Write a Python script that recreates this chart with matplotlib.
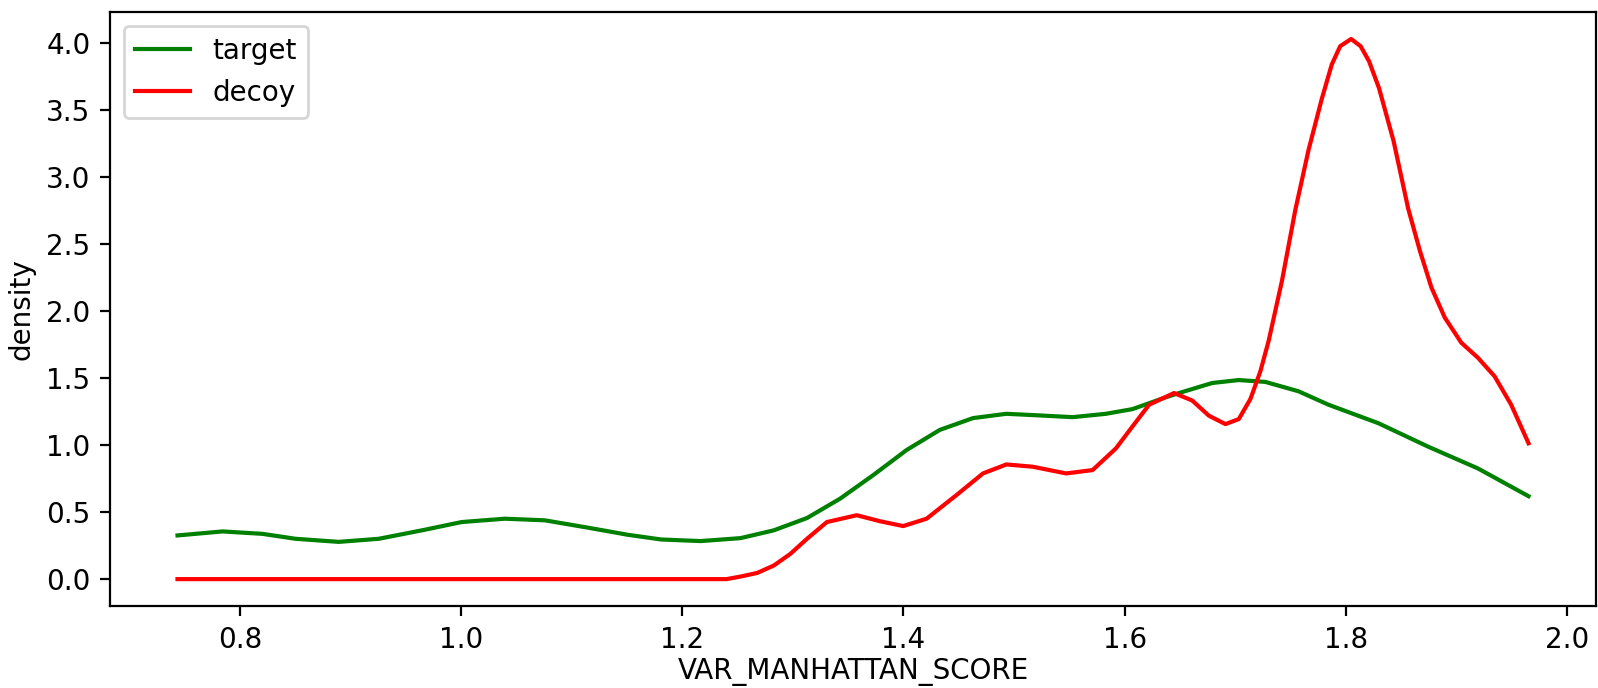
import matplotlib
matplotlib.use("Agg")
import matplotlib.pyplot as plt

# values
target_x = [0.7437, 0.7844, 0.8204, 0.8505, 0.8895, 0.9256, 0.9646, 1.0006, 1.0396, 1.0757,
            1.1148, 1.1508, 1.1808, 1.2167, 1.2527, 1.2827, 1.3128, 1.3428, 1.3728, 1.4029,
            1.4329, 1.4629, 1.4930, 1.5230, 1.5530, 1.5830, 1.6070, 1.6371, 1.6491, 1.6791,
            1.7032, 1.7272, 1.7572, 1.7842, 1.8293, 1.8743, 1.9194, 1.9651]
target_y = [0.326, 0.356, 0.338, 0.301, 0.278, 0.301, 0.364, 0.426, 0.451, 0.439,
            0.384, 0.331, 0.296, 0.284, 0.306, 0.364, 0.456, 0.601, 0.777, 0.964,
            1.114, 1.202, 1.234, 1.222, 1.209, 1.234, 1.269, 1.357, 1.389, 1.464,
            1.486, 1.472, 1.402, 1.302, 1.164, 0.989, 0.826, 0.619]

decoy_x = [0.7437, 1.2400, 1.2527, 1.2677, 1.2827, 1.2977, 1.3128, 1.3308, 1.3578, 1.3788,
           1.3998, 1.4209, 1.4479, 1.4719, 1.4930, 1.5169, 1.5470, 1.5710, 1.5921, 1.6070,
           1.6221, 1.6446, 1.6611, 1.6761, 1.6911, 1.7032, 1.7137, 1.7227, 1.7302, 1.7422,
           1.7542, 1.7662, 1.7782, 1.7872, 1.7948, 1.8047, 1.8133, 1.8209, 1.8299, 1.8431,
           1.8563, 1.8668, 1.8773, 1.8894, 1.9044, 1.9194, 1.9344, 1.9494, 1.9651]
decoy_y = [0.0, 0.0, 0.019, 0.046, 0.101, 0.188, 0.301, 0.426, 0.477, 0.432,
           0.396, 0.451, 0.627, 0.789, 0.856, 0.839, 0.789, 0.814, 0.976, 1.139,
           1.302, 1.389, 1.333, 1.220, 1.157, 1.195, 1.345, 1.552, 1.780, 2.227,
           2.753, 3.203, 3.585, 3.841, 3.978, 4.032, 3.978, 3.866, 3.666, 3.270,
           2.766, 2.453, 2.177, 1.952, 1.764, 1.652, 1.514, 1.302, 1.014]

fig = plt.figure(figsize=(1598 / 200, 688 / 200), dpi=200)
ax = fig.add_axes([0.0688, 0.119, 0.93, 0.8636])

ax.plot(target_x, target_y, color='green', label='target')
ax.plot(decoy_x, decoy_y, color='red', label='decoy')
ax.set_xlabel('VAR_MANHATTAN_SCORE', labelpad=1.5)
ax.set_ylabel('density')
ax.legend(loc='upper left')

fig.savefig('out.png', dpi=200)
